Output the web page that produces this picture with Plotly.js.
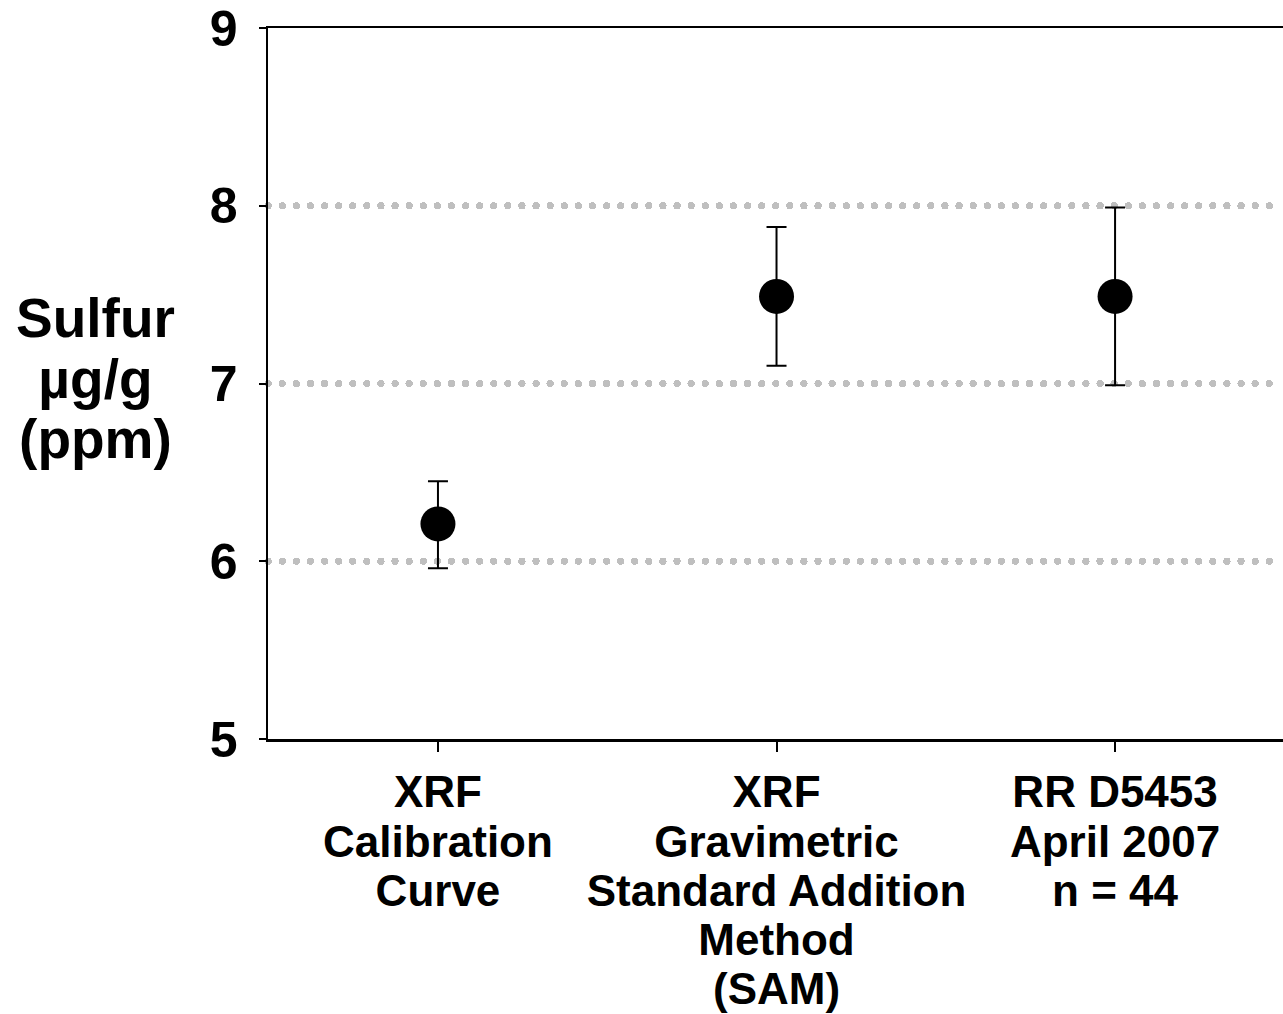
<!DOCTYPE html>
<html>
<head>
<meta charset="utf-8">
<script src="https://cdn.plot.ly/plotly-3.0.1.min.js"></script>
<style>
  html, body { margin: 0; padding: 0; background: #fff; overflow: hidden; }
  #chart { width: 1283px; height: 1014px; }
</style>
</head>
<body>
<div id="chart"></div>
<script>
// Data
const categories = [
  "XRF<br>Calibration<br>Curve",
  "XRF<br>Gravimetric<br>Standard Addition<br>Method<br>(SAM)",
  "RR D5453<br>April 2007<br>n = 44"
];
const sulfurValues = [6.21, 7.49, 7.49];
const errorPlus = [0.24, 0.39, 0.50];
const errorMinus = [0.25, 0.39, 0.50];
const yTickValues = [5, 6, 7, 8, 9];

const fontFamily = "Liberation Sans, Arial, Helvetica, sans-serif";

const trace = {
  type: "scatter",
  mode: "markers",
  x: [0, 1, 2],
  y: sulfurValues,
  marker: { color: "#000", size: 35, line: { width: 0 } },
  error_y: {
    type: "data",
    symmetric: false,
    array: errorPlus,
    arrayminus: errorMinus,
    color: "#000",
    thickness: 2,
    width: 10
  },
  hoverinfo: "skip",
  showlegend: false
};

const layout = {
  width: 1283,
  height: 1014,
  margin: { l: 268, r: 0, t: 28, b: 275 },
  paper_bgcolor: "#fff",
  plot_bgcolor: "#fff",
  font: { family: fontFamily, color: "#000" },
  xaxis: {
    range: [-0.502, 2.496],
    tickmode: "array",
    tickvals: [0, 1, 2],
    ticktext: categories,
    ticks: "outside",
    ticklen: 10,
    tickwidth: 2,
    tickcolor: "#000",
    showline: true,
    linecolor: "#000",
    linewidth: 2.5,
    mirror: true,
    showgrid: false,
    zeroline: false,
    tickfont: { family: fontFamily, size: 44, color: "#000", weight: "bold" },
    ticklabelstandoff: 3
  },
  yaxis: {
    range: [5, 9],
    tickmode: "array",
    tickvals: yTickValues,
    ticktext: yTickValues.map(String),
    ticks: "outside",
    ticklen: 7,
    tickwidth: 2,
    tickcolor: "#000",
    showline: true,
    linecolor: "#000",
    linewidth: 2.5,
    showgrid: true,
    gridcolor: "#bfbfbf",
    gridwidth: 7,
    griddash: "7px,7px",
    zeroline: false,
    tickfont: { family: fontFamily, size: 50, color: "#000", weight: "bold" },
    ticklabelstandoff: 11
  },
  annotations: [{
    text: "Sulfur<br>µg/g<br>(ppm)",
    xref: "paper", yref: "paper",
    x: -0.17, y: 0.492,
    xanchor: "center", yanchor: "middle",
    showarrow: false,
    font: { family: fontFamily, size: 55, color: "#000", weight: "bold" }
  }]
};

function rescaleLines(selector, spacing) {
  document.querySelectorAll(selector).forEach(function (t) {
    const dy = t.getAttribute("dy");
    if (dy) {
      const n = parseFloat(dy) / 1.3;
      t.setAttribute("dy", (n * spacing) + "em");
    }
  });
}

Plotly.newPlot("chart", [trace], layout, { displayModeBar: false, staticPlot: true }).then(function () {
  rescaleLines(".xtick text tspan.line", 1.12);
  rescaleLines(".annotation-text tspan.line", 1.1);
  document.querySelectorAll("path.ygrid, .gridlayer path").forEach(function (p) {
    p.style.strokeWidth = "7px";
    p.style.strokeDasharray = "0.3px,13.8px";
    p.style.strokeLinecap = "round";
  });
});
</script>
</body>
</html>
